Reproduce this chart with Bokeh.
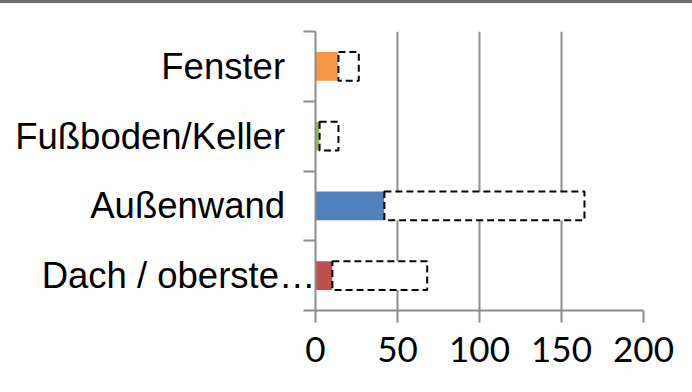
from bokeh.plotting import figure
from bokeh.models import FixedTicker, ColumnDataSource, Div
from bokeh.layouts import column
from bokeh.embed import file_html
from bokeh.resources import INLINE

# Data (bottom to top)
categories = ["Dach / oberste…", "Außenwand", "Fußboden/Keller", "Fenster"]
first_part = [10.3, 42, 2.5, 14]
second_part = [57.8, 122, 11.5, 12.4]
colors = ["#C0504D", "#4F81BD", "#9BBB59", "#F79646"]
x_ticks = [0, 50, 100, 150, 200]

n = len(categories)
ypos = list(range(n))
left2 = first_part
right2 = [a + b for a, b in zip(first_part, second_part)]

src = ColumnDataSource(dict(y=ypos, f=first_part, l2=left2, r2=right2, c=colors))

p = figure(width=692, height=388, output_backend="svg", toolbar_location=None,
           x_range=(0, 200), y_range=(-0.5, n - 0.5),
           min_border_left=315, min_border_right=49, min_border_top=27, min_border_bottom=82)
p.outline_line_color = None
p.background_fill_color = "white"
p.border_fill_color = "white"

bh = 0.41
p.hbar(y="y", left=0, right="f", height=bh, fill_color="c", line_color=None, source=src)
p.hbar(y="y", left="l2", right="r2", height=bh, fill_color="white", line_color="black",
       line_dash="7 4", line_width=2, source=src)

# x axis
p.xaxis.ticker = FixedTicker(ticks=x_ticks)
p.xaxis.axis_line_color = "#8C8C8C"
p.xaxis.axis_line_width = 2
p.xaxis.major_tick_line_color = "#8C8C8C"
p.xaxis.major_tick_line_width = 2
p.xaxis.major_tick_out = 12
p.xaxis.major_tick_in = 0
p.xaxis.minor_tick_line_color = None
p.xaxis.major_label_text_font = "Lato"
p.xaxis.major_label_text_font_size = "35px"
p.xaxis.major_label_text_color = "black"
p.xaxis.major_label_standoff = 14

# y axis: labels at centres, ticks at boundaries.
# The truncated bottom label overflows onto the axis (as in the original), the
# others keep a small gap, so they carry trailing no-break spaces.
pad = "\u00a0\u00a0\u00a0"
bounds = [i - 0.5 for i in range(n + 1)]
p.yaxis.ticker = FixedTicker(ticks=ypos, minor_ticks=bounds)
p.yaxis.major_label_overrides = {i: (c if c.endswith("…") else c + pad)
                                 for i, c in enumerate(categories)}
p.yaxis.major_tick_line_color = None
p.yaxis.major_tick_out = 0
p.yaxis.major_tick_in = 0
p.yaxis.minor_tick_line_color = "#8C8C8C"
p.yaxis.minor_tick_line_width = 2
p.yaxis.minor_tick_out = 12
p.yaxis.minor_tick_in = 0
p.yaxis.axis_line_color = "#8C8C8C"
p.yaxis.axis_line_width = 2
p.yaxis.major_label_text_font = "Liberation Sans"
p.yaxis.major_label_text_font_size = "36.5px"
p.yaxis.major_label_text_color = "black"
p.yaxis.major_label_standoff = -12

p.xgrid.grid_line_color = "#8C8C8C"
p.xgrid.grid_line_width = 2
p.xgrid.ticker = FixedTicker(ticks=x_ticks)
p.ygrid.grid_line_color = None

top = Div(text="", width=692, height=4,
          styles={"border-top": "3px solid #6E6E6E", "margin": "0", "padding": "0"})
top.margin = (1, 0, 0, 0)

layout = column(top, p, spacing=0)
open("out.html", "w").write(file_html(layout, INLINE))
